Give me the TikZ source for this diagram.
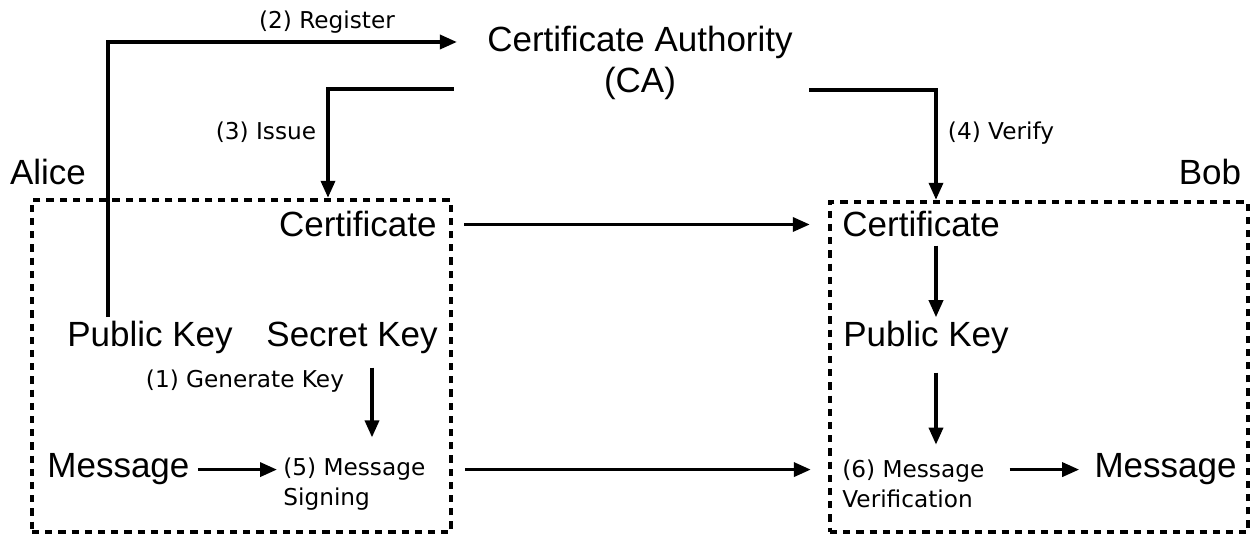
\documentclass[tikz,border=0pt]{standalone}
\usepackage{fontspec}
\setmainfont{Liberation Sans}
\newfontfamily\labelfont{DejaVu Sans}
\usetikzlibrary{arrows.meta}

\begin{document}
\begin{tikzpicture}[x=0.5pt,y=-0.5pt,
    big/.style={font=\fontsize{17.5}{20.5}\selectfont, inner sep=2pt},
    small/.style={font=\labelfont\fontsize{11.6}{15}\selectfont, inner sep=2pt},
    flow/.style={-{Triangle[length=8.5pt,width=7pt]}, line width=1.75pt},
    party/.style={draw, line width=2.2pt, dash pattern=on 3.6pt off 3pt, inner sep=0pt}]
    \useasboundingbox (0,0) rectangle (1250,534);
    \node[party, minimum width=209.5pt, minimum height=166pt] (alicebox) at (241.5,366) {};
    \node[party, minimum width=209pt, minimum height=165pt] (bobbox) at (1039,367) {};

    \node[big, align=center] (ca) at (640,63) {Certificate Authority\\(CA)};
    \node[big, anchor=base] (alice) at (48,185) {Alice};
    \node[big, anchor=base] (bob) at (1210,185) {Bob};

    \node[big, anchor=base east] (alicecert) at (441,237) {Certificate};
    \node[big, anchor=base west] (alicepub) at (63,347) {Public Key};
    \node[big, anchor=base east] (alicesec) at (442,347) {Secret Key};
    \node[small, anchor=base] (genkey) at (245,388) {(1) Generate Key};
    \node[big, anchor=base west] (alicemsg) at (43,478) {Message};
    \node[small, align=left, anchor=west] (sign) at (279,484) {(5) Message\\Signing};

    \node[big, anchor=base west] (bobcert) at (838,237) {Certificate};
    \node[big, anchor=base west] (bobpub) at (839,347) {Public Key};
    \node[small, align=left, anchor=west] (verif) at (838,484) {(6) Message\\Verification};
    \node[big, anchor=base east] (bobmsg) at (1241,478) {Message};

    \node[small, anchor=base] (reglabel) at (327,29) {(2) Register};
    \node[small, anchor=base] (issuelabel) at (266,140) {(3) Issue};
    \node[small, anchor=base] (verifylabel) at (1001,140) {(4) Verify};

    \coordinate (regbend) at (108,42);
    \coordinate (issuebend) at (328,89);
    \coordinate (verifybend) at (936,90);

    \draw[flow, shorten >=13pt] (alicepub.north -| regbend) -- (regbend) -- (ca.west |- regbend);
    \draw[flow] ([xshift=-14.5pt]ca.west |- issuebend) -- (issuebend) -- (issuebend |- alicebox.north);
    \draw[flow] ([xshift=6pt]ca.east |- verifybend) -- (verifybend) -- (verifybend |- bobbox.north);

    \draw[flow, shorten <=5.5pt, shorten >=9pt] (alicebox.east |- alicecert.east) -- (bobbox.west |- alicecert.east);
    \draw[flow, shorten <=6pt, shorten >=8.5pt] (alicebox.east |- alicemsg.east) -- (bobbox.west |- alicemsg.east);

    \draw[flow, shorten <=2pt, shorten >=1pt] (alicemsg.east) -- (sign.west |- alicemsg.east);
    \draw[flow, shorten <=4.5pt, shorten >=8pt] ([xshift=10pt]alicesec.south) -- ([xshift=10pt]alicesec.south |- sign.north);

    \draw[flow, shorten <=2pt] (bobcert.south -| verifybend) -- (bobpub.north -| verifybend);
    \draw[flow, shorten <=7pt, shorten >=5.5pt] (bobpub.south -| verifybend) -- (verif.north -| verifybend);
    \draw[flow, shorten <=10.5pt, shorten >=5.5pt] (verif.east |- bobmsg.west) -- (bobmsg.west);
\end{tikzpicture}
\end{document}
